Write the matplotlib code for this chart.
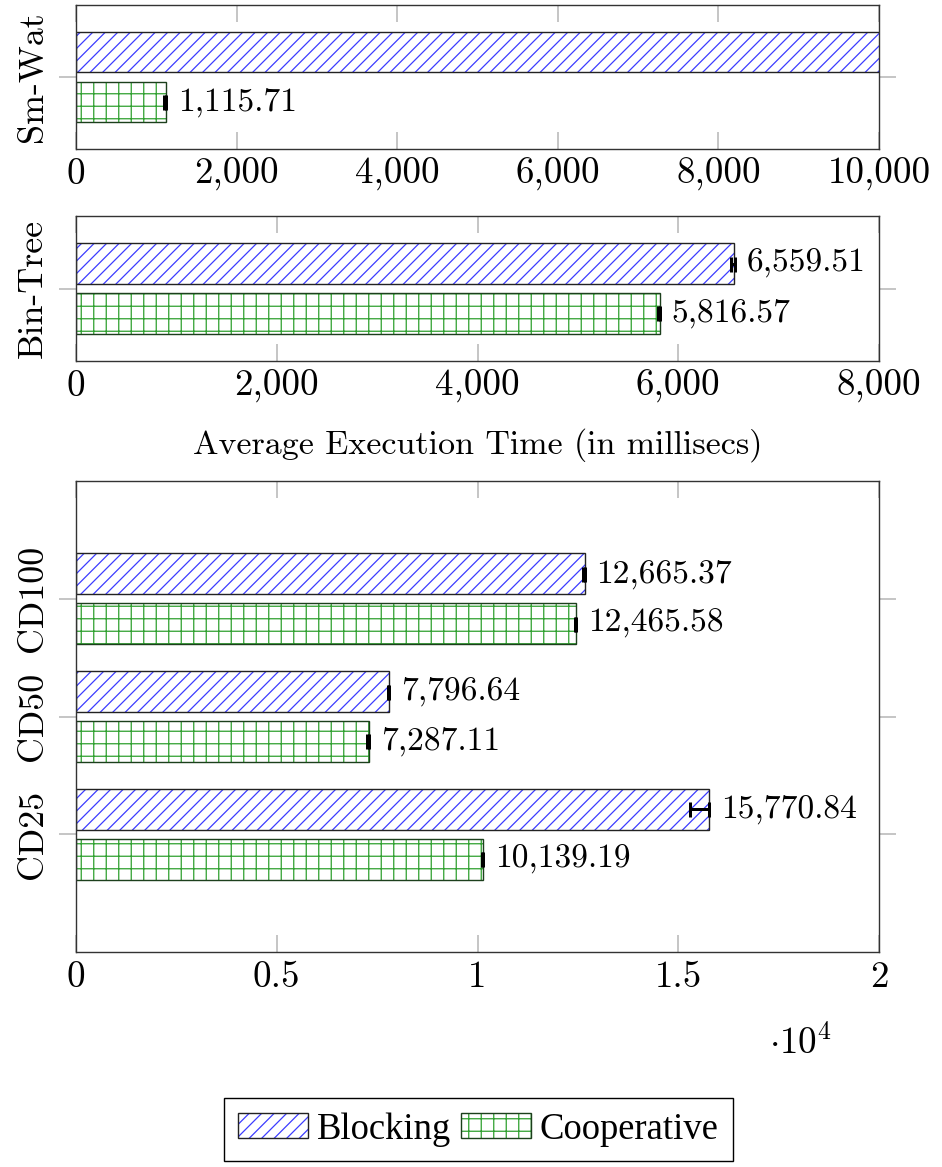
import matplotlib
matplotlib.use("Agg")
import matplotlib.pyplot as plt
from matplotlib.patches import Patch
from matplotlib.legend_handler import HandlerTuple
from matplotlib.ticker import FuncFormatter

# average execution times in milliseconds
smwat_labels = ["Sm-Wat"]
smwat_blocking = [16924.33]  # runs off the 0-10,000 axis, its label gets clipped
smwat_cooperative = [1115.71]
smwat_blocking_err = [[0], [0]]
smwat_cooperative_err = [[15], [0]]

bintree_labels = ["Bin-Tree"]
bintree_blocking = [6559.51]
bintree_cooperative = [5816.57]
bintree_blocking_err = [[30], [5]]
bintree_cooperative_err = [[15], [0]]

cd_labels = ["CD25", "CD50", "CD100"]
cd_blocking = [15770.84, 7796.64, 12665.37]
cd_cooperative = [10139.19, 7287.11, 12465.58]
cd_blocking_err = [[470, 30, 30], [0, 0, 0]]
cd_cooperative_err = [[30, 30, 30], [0, 0, 0]]

series_names = ["Blocking", "Cooperative"]

DPI = 75
W, H = 942, 1167


def px(v):
    # pixels -> points
    return v * 72 / DPI


BLUE = "#3c3cff"
GREEN = "#2ea02e"
BLK_EDGE = "#222222"
COOP_EDGE = "#1c3f1c"
TICK_GRAY = "#b4b4b4"
BAR_H = 0.345
OFFSET = 0.212
BLK_HATCH = "//"
COOP_HATCH = "+"

plt.rcParams["font.family"] = "cmr10"
plt.rcParams["mathtext.fontset"] = "cm"
plt.rcParams["axes.unicode_minus"] = False
plt.rcParams["hatch.linewidth"] = 1.2

TICK_FS = px(37)
VAL_FS = px(33.5)
YLAB_FS = px(36)
XLAB_FS = px(34)
LEG_FS = px(36.6)


def draw_panel(ax, labels, blocking, cooperative, blk_err, coop_err, xmax, xticks, fmt, ylim):
    pos = list(range(len(labels)))
    blk_y = [p + OFFSET for p in pos]
    coop_y = [p - OFFSET for p in pos]
    for ys, vals, err, col, hatch, edge in (
        (blk_y, blocking, blk_err, BLUE, BLK_HATCH, BLK_EDGE),
        (coop_y, cooperative, coop_err, GREEN, COOP_HATCH, COOP_EDGE),
    ):
        ax.barh(ys, vals, height=BAR_H, color="white", edgecolor=col, hatch=hatch, linewidth=0)
        ax.barh(ys, vals, height=BAR_H, fill=False, edgecolor=edge, linewidth=px(1.4))
        ax.errorbar(vals, ys, xerr=err, fmt="none", ecolor="black",
                    elinewidth=px(3), capsize=px(7.5), capthick=px(3))
        for v, y in zip(vals, ys):
            ax.annotate(f"{v:,.2f}", xy=(v, y), xytext=(px(12), 0), textcoords="offset points",
                        ha="left", va="center", fontsize=VAL_FS)

    ax.set_xlim(0, xmax)
    ax.set_ylim(*ylim)
    ax.set_xticks(xticks)
    ax.xaxis.set_major_formatter(FuncFormatter(fmt))
    ax.set_yticks(pos, labels, rotation=90, va="center")
    ax.tick_params(axis="x", direction="in", top=True, bottom=True, length=px(17),
                   width=px(1.5), color=TICK_GRAY, labelsize=TICK_FS, pad=px(9))
    ax.tick_params(axis="y", direction="out", left=True, right=True, length=px(17),
                   width=px(1.5), color=TICK_GRAY, labelsize=YLAB_FS, pad=px(10))
    for s in ax.spines.values():
        s.set_color("#333333")
        s.set_linewidth(px(1.4))


def rect(top, bottom, left=76, right=879):
    return [left / W, 1 - bottom / H, (right - left) / W, (bottom - top) / H]


fig = plt.figure(figsize=(W / DPI, H / DPI), dpi=DPI)
ax1 = fig.add_axes(rect(5, 149))
ax2 = fig.add_axes(rect(216, 361))
ax3 = fig.add_axes(rect(481, 952))

thousands = lambda v, _: f"{v:,.0f}"
draw_panel(ax1, smwat_labels, smwat_blocking, smwat_cooperative, smwat_blocking_err,
           smwat_cooperative_err, 10000, [0, 2000, 4000, 6000, 8000, 10000], thousands, (-0.611, 0.611))
draw_panel(ax2, bintree_labels, bintree_blocking, bintree_cooperative, bintree_blocking_err,
           bintree_cooperative_err, 8000, [0, 2000, 4000, 6000, 8000], thousands, (-0.615, 0.615))
draw_panel(ax3, cd_labels, cd_blocking, cd_cooperative, cd_blocking_err,
           cd_cooperative_err, 20000, [0, 5000, 10000, 15000, 20000], lambda v, _: f"{v / 1e4:g}", (-1, 3))

fig.text(477.5 / W, 1 - 445 / H, "Average Execution Time (in millisecs)", ha="center", va="center",
         fontsize=XLAB_FS)
fig.text(801 / W, 1 - 1043 / H, r"$\cdot 10^{4}$", ha="center", va="center", fontsize=TICK_FS)

handles = [
    (Patch(facecolor="white", edgecolor=BLUE, hatch=BLK_HATCH, linewidth=0),
     Patch(fill=False, edgecolor=BLK_EDGE, linewidth=px(1.4))),
    (Patch(facecolor="white", edgecolor=GREEN, hatch=COOP_HATCH, linewidth=0),
     Patch(fill=False, edgecolor=COOP_EDGE, linewidth=px(1.4))),
]
leg = fig.legend(handles, series_names, handler_map={tuple: HandlerTuple(ndivide=1)},
                 loc="center", bbox_to_anchor=(478.5 / W, 1 - 1129.5 / H), ncol=2,
                 prop={"family": "Liberation Serif", "size": LEG_FS},
                 handlelength=1.91, handleheight=0.68, handletextpad=0.25, columnspacing=0.25,
                 borderpad=0.38, fancybox=False, framealpha=1, edgecolor="black")
leg.get_frame().set_linewidth(px(1.4))

fig.savefig("out.png", dpi=DPI)
